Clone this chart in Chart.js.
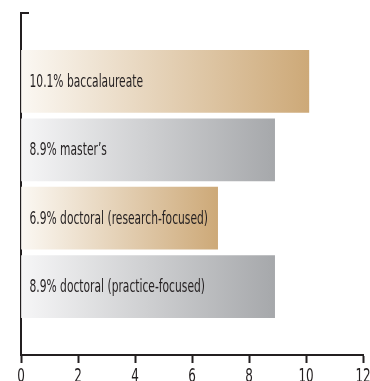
<!DOCTYPE html>
<html>
<head>
<meta charset="utf-8">
<script src="https://cdn.jsdelivr.net/npm/chart.js@4"></script>
<style>
  html, body { margin: 0; padding: 0; background: #fff; }
  #wrap { width: 370px; height: 381px; }
</style>
</head>
<body>
<div id="wrap"><canvas id="chart"></canvas></div>
<script>
const categories = ["baccalaureate", "master\u2019s", "doctoral (research-focused)", "doctoral (practice-focused)"];
const rates = [10.1, 8.9, 6.9, 8.9];
const rows = [1, 2, 3, 4];
const xTicks = [0, 2, 4, 6, 8, 10, 12];

const INK = "#231f20";
const FONT = "'DejaVu Sans', sans-serif";
const SQUEEZE = 0.63; // narrow the type horizontally
const palettes = [
  ["#fbf8f3", "#cda978"],
  ["#f6f6f7", "#a6a8ab"],
  ["#fbf8f3", "#cda978"],
  ["#f6f6f7", "#a6a8ab"]
];

function barFill(ctx) {
  const chart = ctx.chart;
  const x = chart.scales.x;
  if (!x || !chart.chartArea) return palettes[ctx.dataIndex][1];
  const x0 = x.getPixelForValue(0);
  const x1 = x.getPixelForValue(rates[ctx.dataIndex]);
  const g = chart.ctx.createLinearGradient(x0, 0, x1, 0);
  g.addColorStop(0, palettes[ctx.dataIndex][0]);
  g.addColorStop(1, palettes[ctx.dataIndex][1]);
  return g;
}

function narrowText(c, text, x, y, align) {
  c.save();
  c.translate(x, y);
  c.scale(SQUEEZE, 1);
  c.textAlign = align;
  c.fillText(text, 0, 0);
  c.restore();
}

// bar labels, condensed x tick labels, and the cap at the top of the y axis
const barText = {
  id: "barText",
  afterDatasetsDraw(chart) {
    const c = chart.ctx;
    const meta = chart.getDatasetMeta(0);
    c.save();
    c.font = "17px " + FONT;
    c.fillStyle = INK;
    c.textBaseline = "middle";
    meta.data.forEach((bar, i) => {
      narrowText(c, rates[i] + "% " + categories[i], bar.base + 8, bar.y + 1, "left");
    });
    const xs = chart.scales.x;
    c.font = "19px " + FONT;
    c.textBaseline = "alphabetic";
    xs.ticks.forEach(t => {
      narrowText(c, String(t.value), xs.getPixelForValue(t.value), xs.top + 27, "center");
    });
    const area = chart.chartArea;
    c.strokeStyle = INK;
    c.lineWidth = 2;
    c.beginPath();
    c.moveTo(area.left - 1, area.top);
    c.lineTo(area.left + 8, area.top);
    c.stroke();
    c.restore();
  }
};

new Chart(document.getElementById("chart"), {
  type: "bar",
  data: {
    datasets: [{
      data: rows.map((r, i) => ({ x: rates[i], y: r })),
      backgroundColor: barFill,
      borderWidth: 0,
      barThickness: 62
    }]
  },
  options: {
    indexAxis: "y",
    responsive: true,
    maintainAspectRatio: false,
    animation: false,
    layout: { padding: { left: 21, right: 7, top: 13, bottom: 0 } },
    plugins: { legend: { display: false }, tooltip: { enabled: false } },
    scales: {
      x: {
        type: "linear",
        min: 0,
        max: 12,
        afterBuildTicks(s) { s.ticks = xTicks.map(v => ({ value: v })); },
        afterFit(s) { s.height = 26; s.paddingLeft = 0; s.paddingRight = 0; },
        border: { display: true, color: INK, width: 2 },
        grid: { drawOnChartArea: false, drawTicks: true, tickLength: 8, tickWidth: 2, tickColor: INK },
        ticks: { display: false }
      },
      y: {
        type: "linear",
        reverse: true,
        offset: false,
        min: 0,
        max: 5,
        afterFit(s) { s.width = 0; s.paddingTop = 0; s.paddingBottom = 0; },
        border: { display: true, color: INK, width: 2 },
        grid: { display: false },
        ticks: { display: false }
      }
    }
  },
  plugins: [barText]
});
</script>
</body>
</html>
